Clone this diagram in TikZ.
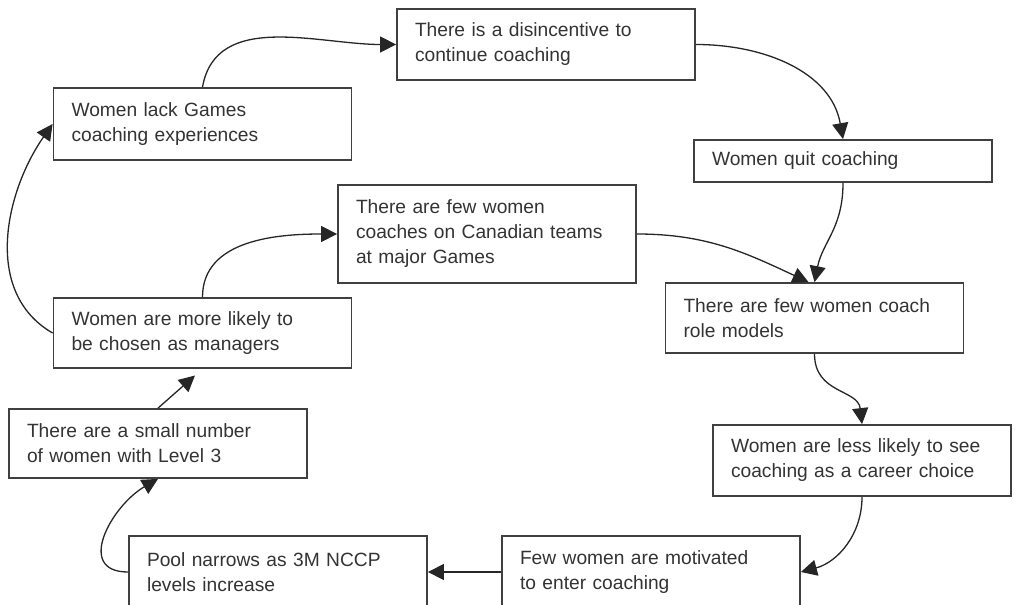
\documentclass[tikz,border=0pt]{standalone}
\usepackage{fontspec}
\setmainfont{Liberation Sans}
\usetikzlibrary{arrows.meta, positioning}

\begin{document}
\begin{tikzpicture}[
      x=0.5pt, y=0.5pt,
      box/.style={draw=black!75, line width=0.9pt, text=black!80, minimum height=#1,
                  text width=131pt, inner xsep=9pt, inner ysep=0pt, align=left,
                  font=\fontsize{9.6}{12.5}\selectfont},
      box/.default=35pt,
      arr/.style={-{Triangle[length=8pt, width=8pt]}, line width=0.65pt, draw=black!85}
    ]
      \useasboundingbox (0,0) rectangle (1015,-604);

      \node[box=35.5pt] (disinc)   at (546,-44.5)  {There is a disincentive to\\continue coaching};
      \node[box=36pt]   (lack)     at (202.5,-124) {Women lack Games\\coaching experiences};
      \node[box=21pt]   (quit)     at (843,-161)   {Women quit coaching};
      \node[box=49pt]   (few)      at (487,-234)   {There are few women\\coaches on Canadian teams\\at major Games};
      \node[box=35pt]   (models)   at (814.5,-318) {There are few women coach\\role models};
      \node[box=35pt]   (managers) at (202.5,-333) {Women are more likely to\\be chosen as managers};
      \node[box=35.5pt] (career)   at (862,-460.5) {Women are less likely to see\\coaching as a career choice};
      \node[box=34.5pt] (level)    at (158,-443.5) {There are a small number\\of women with Level 3};
      \node[box=36pt]   (pool)     at (278,-572)   {Pool narrows as 3M NCCP\\levels increase};
      \node[box=36pt]   (motiv)    at (651,-572)   {Few women are motivated\\to enter coaching};

      \draw[arr] (lack.north) to[out=80, in=180] (disinc.west);
      \draw[arr] (disinc.east) to[out=0, in=100] (quit.north);
      \draw[arr] (quit.south) .. controls +(0,-45) and +(8,40) .. (models.north);
      \draw[arr] (few.east) to[out=0, in=155] ([xshift=-3pt]models.north);
      \draw[arr] (models.south) .. controls +(0,-40) and +(-4,35) .. (career.north);
      \draw[arr] (career.south) to[out=-90, in=15] (motiv.east);
      \draw[arr] (motiv.west) -- (pool.east);
      \draw[arr] (pool.west) to[out=180, in=210, looseness=1.4] (level.south);
      \draw[arr, shorten >=5pt] (level.north) -- (managers.south);
      \draw[arr] (managers.north) to[out=90, in=180] (few.west);
      \draw[arr] (managers.west) to[out=150, in=235] (lack.west);
    \end{tikzpicture}
\end{document}
